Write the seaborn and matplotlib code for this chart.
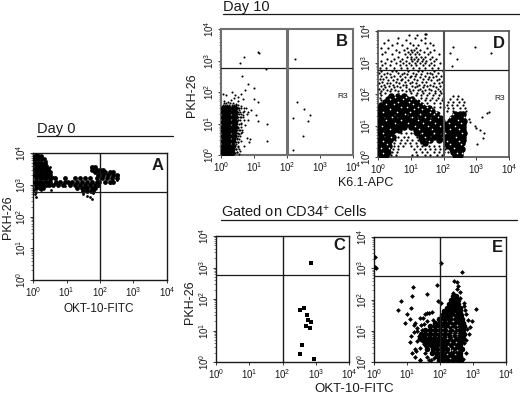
import matplotlib
matplotlib.use("Agg")
import matplotlib.pyplot as plt
from matplotlib.lines import Line2D
import numpy as np
import pandas as pd
import seaborn as sns

# all values below are log10 positions

a_core_y = [3.9, 3.8, 3.7, 3.6, 3.5, 3.4, 3.3, 3.2, 3.1, 3.0, 2.9,
            3.2, 3.1, 3.0, 2.9, 2.8,
            3.2, 3.1, 3.0,
            3.55, 3.45, 3.4, 3.3, 3.2, 3.1]
a_core_x = [[0.05, 0.15, 0.25], [0.05, 0.15, 0.25, 0.32], [0.05, 0.15, 0.25, 0.35], [0.1, 0.2, 0.3, 0.4],
            [0.05, 0.15, 0.25, 0.35, 0.45], [0.1, 0.2, 0.3, 0.4, 0.5], [0.05, 0.15, 0.25, 0.35, 0.45, 0.52],
            [0.1, 0.2, 0.3, 0.4, 0.5, 0.55], [0.05, 0.15, 0.25, 0.35, 0.45, 0.52], [0.1, 0.2, 0.3, 0.4, 0.48],
            [0.1, 0.2, 0.3],
            [1.25, 1.4, 1.55, 1.7, 1.9], [1.15, 1.3, 1.45, 1.6, 1.75, 1.9, 1.98],
            [1.1, 1.25, 1.4, 1.55, 1.7, 1.85, 1.95], [1.3, 1.45, 1.6, 1.75, 1.85], [1.5, 1.6, 1.72, 1.8],
            [0.65, 0.95], [0.7, 0.82, 0.95, 1.05], [0.6, 0.75, 0.9],
            [1.75, 1.85], [1.75, 1.9, 2.0, 2.1], [1.85, 2.0, 2.15, 2.3, 2.4], [1.95, 2.1, 2.25, 2.4, 2.5],
            [2.05, 2.2, 2.35, 2.5], [2.15, 2.3, 2.4]]
a_dots_x = [0.05, 0.08, 0.04, 0.1, 0.25, 0.55, 0.6, 0.5, 0.65, 0.95, 1.5, 1.6, 1.7, 1.75, 1.6, 1.8, 1.55, 1.95,
            2.05, 2.55, 2.5, 2.3, 1.75, 1.72, 0.5, 0.15, 0.38, 0.1, 0.05]
a_dots_y = [2.7, 2.6, 2.85, 2.78, 2.85, 2.85, 3.25, 3.55, 3.05, 2.95, 2.72, 2.65, 2.6, 2.55, 2.82, 2.75, 2.9, 2.95,
            3.2, 3.3, 3.15, 3.05, 3.5, 3.55, 3.3, 3.95, 3.75, 3.98, 3.92]

b_core_y = [1.5, 1.35, 1.2, 1.05, 0.9, 0.75, 0.6, 0.45, 0.3, 0.15, 0.05]
b_core_x = [[0.05, 0.15, 0.25, 0.35, 0.42], [0.05, 0.15, 0.25, 0.35, 0.42], [0.05, 0.15, 0.25, 0.35, 0.42],
            [0.05, 0.15, 0.25, 0.35, 0.42], [0.05, 0.15, 0.25, 0.35, 0.42], [0.05, 0.15, 0.25, 0.35, 0.4],
            [0.05, 0.15, 0.25, 0.35, 0.4], [0.05, 0.15, 0.25, 0.35], [0.05, 0.15, 0.25, 0.35],
            [0.05, 0.15, 0.25, 0.33], [0.05, 0.15, 0.25, 0.33]]
b_dots_x = [1.14, 1.12, 0.70, 0.57, 1.35, 0.63, 0.81, 1.01, 0.73, 2.23, 2.30, 2.50, 2.70, 2.17, 2.63, 2.47, 2.17,
            1.40, 1.38, 1.12, 0.99, 1.07, 1.12, 0.88,
            0.45, 0.5, 0.55, 0.62, 0.48, 0.7, 0.58, 0.66, 0.75, 0.52, 0.46, 0.6, 0.72, 0.82, 0.5, 0.57,
            0.47, 0.55, 0.65, 0.49, 0.53, 0.44, 0.6, 0.7, 0.46, 0.52, 0.48, 0.44, 0.58, 0.5, 0.66, 0.42,
            0.1, 0.22, 0.3, 0.38, 0.05, 0.16, 0.34, 0.5, 0.62, 0.92, 0.78, 0.85, 0.42, 0.55]
b_dots_y = [3.24, 3.26, 3.11, 2.91, 2.72, 2.5, 2.24, 2.12, 2.07, 3.06, 1.68, 1.46, 1.26, 1.16, 1.08, 0.59, 0.17,
            1.0, 0.45, 1.67, 1.77, 1.27, 1.08, 0.5,
            1.62, 1.5, 1.42, 1.55, 1.3, 1.4, 1.2, 1.28, 1.5, 1.1, 0.98, 1.02, 0.95, 1.35, 0.85, 0.8,
            0.7, 0.66, 0.72, 0.55, 0.42, 0.35, 0.46, 0.3, 0.2, 0.25, 0.1, 0.62, 0.12, 1.72, 1.78, 1.9,
            1.72, 1.68, 1.75, 1.82, 1.95, 1.9, 2.0, 1.85, 1.95, 1.42, 0.55, 0.42, 0.05, 0.02]
b_edge_y = [1.66, 1.6, 1.48, 1.38, 1.3, 1.2, 1.12, 1.0, 0.9, 0.8, 0.7, 0.6, 0.5, 0.4, 0.3, 0.2, 0.1]
b_edge_x = [[0.08, 0.16, 0.28, 0.36], [0.05, 0.12, 0.18, 0.25, 0.32, 0.4, 0.46, 0.52], [0.48, 0.55, 0.62, 0.7],
            [0.5, 0.58, 0.66], [0.47, 0.55, 0.62, 0.78], [0.48, 0.53, 0.6, 0.68], [0.5, 0.58, 0.7, 0.82],
            [0.47, 0.54, 0.62], [0.46, 0.52, 0.6], [0.48, 0.55, 0.65], [0.46, 0.52, 0.6], [0.44, 0.5, 0.58],
            [0.42, 0.48, 0.55], [0.4, 0.46, 0.52], [0.42, 0.5], [0.38, 0.45, 0.55], [0.4, 0.48]]

c_dots_x = [2.86, 2.53, 2.66, 2.75, 2.78, 2.87, 2.72, 2.82, 2.59, 2.53, 2.96]
c_dots_y = [3.15, 1.65, 1.71, 1.48, 1.32, 1.27, 1.15, 1.08, 0.55, 0.24, 0.11]

d_core_y = [1.95, 1.85, 1.75, 1.65, 1.55, 1.45, 1.35, 1.25, 1.15, 1.05,
            0.95, 0.85, 0.75, 0.65, 0.55, 0.45, 0.35, 0.25, 0.15, 0.05]
d_core_x = [[0.4, 0.6, 0.8],
            [0.3, 0.5, 0.7, 0.9, 1.05],
            [0.2, 0.4, 0.6, 0.8, 1.0, 1.2],
            [0.1, 0.3, 0.5, 0.7, 0.9, 1.1, 1.3],
            [0.05, 0.2, 0.4, 0.6, 0.8, 1.0, 1.2, 1.4, 1.55],
            [0.1, 0.3, 0.5, 0.7, 0.9, 1.1, 1.3, 1.5, 1.65],
            [0.05, 0.2, 0.4, 0.6, 0.8, 1.0, 1.2, 1.4, 1.6, 1.8, 2.35, 2.5, 2.6],
            [0.1, 0.3, 0.5, 0.7, 0.9, 1.1, 1.3, 1.5, 1.7, 1.9, 2.25, 2.4, 2.55],
            [0.05, 0.2, 0.4, 0.6, 0.8, 1.0, 1.2, 1.4, 1.6, 1.8, 1.95, 2.2, 2.35, 2.5, 2.62],
            [0.1, 0.3, 0.5, 0.7, 0.9, 1.1, 1.3, 1.5, 1.7, 1.9, 2.12, 2.28, 2.45, 2.6],
            [0.05, 0.2, 0.4, 0.6, 0.8, 1.0, 1.2, 1.4, 1.6, 1.8, 2.0, 2.15, 2.3, 2.45, 2.6],
            [0.1, 0.3, 0.5, 0.65, 1.15, 1.3, 1.5, 1.7, 1.9, 2.1, 2.25, 2.4, 2.6],
            [0.05, 0.2, 0.4, 1.2, 1.4, 1.6, 1.8, 2.0, 2.2, 2.35, 2.5, 2.62],
            [0.1, 0.3, 0.45, 1.3, 1.5, 1.7, 1.9, 2.1, 2.3, 2.45, 2.6],
            [0.05, 0.2, 0.38, 1.35, 1.6, 1.85, 2.05, 2.2, 2.35, 2.5, 2.6],
            [0.1, 0.3, 1.45, 2.1, 2.3, 2.45, 2.58],
            [0.05, 0.2, 0.35, 2.15, 2.35, 2.5],
            [0.1, 0.28, 2.25, 2.4, 2.55],
            [0.05, 0.2, 0.32, 2.3, 2.5],
            [0.1, 0.25, 2.35, 2.5]]
d_white_y = [2.0, 1.92, 1.84, 1.76, 1.68, 1.6, 1.52, 1.44, 1.36, 1.28, 1.18, 1.08, 0.98, 0.88, 0.76, 0.64, 0.52, 0.4,
             0.28, 0.14]
d_white_x = [[0.28, 0.66, 0.92], [0.12, 0.52, 0.84, 1.12], [0.38, 0.76, 1.0, 1.18], [0.62, 0.94, 1.28],
             [0.24, 0.48, 1.06, 1.38], [0.7, 0.88, 1.22, 1.5], [0.36, 1.1, 1.34, 1.62], [0.14, 0.58, 0.98, 1.58, 1.76],
             [0.82, 1.28, 1.7, 1.88, 2.3], [0.42, 1.04, 1.44, 1.82, 2.2, 2.62], [0.24, 0.7, 1.22, 1.58, 2.02, 2.44],
             [0.52, 0.92, 1.36, 1.74, 2.16, 2.52], [0.12, 1.12, 1.52, 1.88, 2.34], [0.36, 1.26, 1.66, 2.2, 2.48],
             [0.16, 1.34, 1.72, 2.06, 2.58], [0.4, 1.42, 1.98, 2.38], [0.14, 1.56, 2.12, 2.46], [0.26, 2.2, 2.52],
             [0.08, 0.34, 2.32], [0.14, 2.42, 2.58]]
d_dots_x = [3.0, 3.1, 3.2, 3.25, 3.02, 3.18, 3.32, 3.4, 2.3, 2.42, 2.2, 2.25, 2.95, 3.45, 2.82, 2.78, 2.95]
d_dots_y = [0.92, 0.85, 0.6, 0.75, 0.4, 1.28, 1.4, 1.42, 3.5, 3.1, 3.3, 2.9, 3.5, 3.3, 1.1, 1.2, 1.0]
d_cloud_y = [3.92, 3.86, 3.78, 3.7, 3.62, 3.54, 3.47, 3.4, 3.33, 3.26, 3.19, 3.12, 3.05, 2.98, 2.91, 2.84,
             2.72, 2.67, 2.63, 2.58, 2.53, 2.49, 2.44, 2.39, 2.35, 2.3, 2.26, 2.21, 2.17, 2.12, 2.08,
             2.03, 1.96, 1.88, 1.8, 1.7, 1.6,
             1.95, 1.85, 1.75, 1.65, 1.55, 1.45]
d_cloud_x = [[1.42, 1.48], [0.95, 1.2], [0.6, 1.12, 1.42], [0.3, 0.85, 1.3], [0.18, 0.58, 0.98, 1.42, 1.6],
             [0.42, 0.72, 1.08, 1.22, 1.68], [0.08, 0.3, 0.9, 1.15, 1.5], [0.55, 0.8, 1.0, 1.1, 1.28, 1.72],
             [0.2, 0.65, 0.92, 1.05, 1.18, 1.4, 1.6], [0.12, 0.44, 0.82, 0.98, 1.12, 1.25, 1.52, 1.85],
             [0.6, 0.9, 1.02, 1.16, 1.3, 1.45, 1.65], [0.28, 0.5, 0.74, 1.0, 1.1, 1.22, 1.38, 1.58, 1.78],
             [0.08, 0.4, 0.66, 0.86, 1.04, 1.2, 1.34, 1.48, 1.7], [0.22, 0.55, 0.76, 0.94, 1.12, 1.28, 1.42, 1.62, 1.88],
             [0.12, 0.36, 0.68, 0.84, 1.0, 1.16, 1.36, 1.55, 1.72], [0.05, 0.25, 0.48, 0.7, 0.9, 1.08, 1.24, 1.44, 1.64, 1.82],
             [0.1, 0.42, 0.56, 0.93, 1.22, 1.35, 1.71, 1.98],
             [0.03, 0.27, 0.61, 0.79, 1.06, 1.49, 1.58, 1.83],
             [0.19, 0.36, 0.72, 0.88, 1.17, 1.31, 1.66],
             [0.09, 0.5, 0.66, 1.01, 1.12, 1.43, 1.77, 1.93],
             [0.24, 0.4, 0.83, 0.97, 1.27, 1.56, 1.69],
             [0.05, 0.15, 0.59, 0.74, 1.09, 1.38, 1.52, 1.87],
             [0.31, 0.47, 0.69, 0.91, 1.2, 1.62, 1.79],
             [0.12, 0.55, 0.81, 1.03, 1.33, 1.46, 1.95],
             [0.02, 0.26, 0.37, 0.64, 0.98, 1.15, 1.72, 1.85],
             [0.18, 0.45, 0.76, 0.87, 1.24, 1.4, 1.59],
             [0.08, 0.33, 0.57, 1.05, 1.19, 1.5, 1.68, 1.9],
             [0.22, 0.49, 0.68, 0.84, 1.12, 1.36, 1.77],
             [0.04, 0.14, 0.41, 0.95, 1.29, 1.55, 1.82, 1.97],
             [0.29, 0.53, 0.73, 1.08, 1.21, 1.44, 1.63],
             [0.1, 0.37, 0.62, 0.86, 0.99, 1.34, 1.74, 1.88],
             [0.06, 0.2, 1.02, 1.2, 1.38, 1.56, 1.74, 1.92], [0.1, 1.16, 1.32, 1.5, 1.68, 1.86],
             [0.05, 1.3, 1.48, 1.65, 1.82, 1.98], [0.08, 1.42, 1.6, 1.78, 1.94], [1.5, 1.7, 1.88], [1.72, 1.9, 2.0],
             [2.3, 2.45], [2.2, 2.4, 2.55], [2.15, 2.3, 2.48, 2.62], [2.1, 2.25, 2.42, 2.6], [2.15, 2.3, 2.5, 2.65],
             [2.12, 2.28, 2.7]]
d_hole_y = [0.75, 0.65, 0.55, 0.45, 0.35, 0.25, 0.15, 0.06, 0.35, 0.25, 0.15]
d_hole_x = [[0.7, 0.85, 1.0, 1.1], [0.6, 0.78, 0.92, 1.18], [0.52, 0.7, 0.88, 1.05, 1.22],
            [0.5, 0.66, 0.82, 0.98, 1.15, 1.3], [0.48, 0.62, 0.76, 1.02, 1.2, 1.35], [0.45, 0.6, 1.1, 1.28, 1.42],
            [0.42, 0.58, 1.15, 1.35, 1.5, 1.7], [0.4, 0.55, 1.05, 1.2, 1.42, 1.6, 1.8, 1.95],
            [1.55, 1.7, 1.85, 2.0], [1.6, 1.75, 1.9, 2.05], [1.85, 2.0, 2.15]]

e_core_y = [2.1, 1.98, 1.86, 1.74, 1.62, 1.5, 1.38, 1.26, 1.14, 1.02, 0.9, 0.78, 0.66, 0.54, 0.42, 0.3, 0.18, 0.06]
e_core_x = [[2.38, 2.48],
            [2.32, 2.44, 2.55],
            [2.28, 2.42, 2.54],
            [2.2, 2.34, 2.48, 2.6],
            [2.12, 2.26, 2.4, 2.54, 2.62],
            [2.05, 2.2, 2.35, 2.5, 2.64],
            [1.98, 2.12, 2.27, 2.42, 2.56, 2.68],
            [1.85, 2.0, 2.15, 2.3, 2.45, 2.6, 2.7],
            [1.7, 1.85, 2.0, 2.15, 2.3, 2.45, 2.6, 2.72],
            [1.55, 1.7, 1.85, 2.0, 2.15, 2.3, 2.45, 2.6, 2.7],
            [1.42, 1.55, 1.7, 1.85, 2.0, 2.15, 2.3, 2.45, 2.6, 2.72],
            [1.4, 1.52, 1.68, 1.82, 1.98, 2.12, 2.28, 2.42, 2.58, 2.7],
            [1.5, 1.65, 1.8, 1.95, 2.1, 2.25, 2.4, 2.55, 2.68],
            [1.58, 1.72, 1.88, 2.02, 2.18, 2.32, 2.48, 2.62],
            [1.62, 1.78, 1.92, 2.08, 2.22, 2.38, 2.52, 2.66],
            [1.75, 1.9, 2.05, 2.2, 2.35, 2.5, 2.62],
            [1.9, 2.03, 2.18, 2.32, 2.48, 2.6],
            [1.98, 2.1, 2.25, 2.4, 2.55, 2.63]]
e_white_y = [1.45, 1.3, 1.2, 1.05, 0.9, 0.78, 0.65, 0.5, 0.38, 0.25, 0.12]
e_white_x = [[2.38], [2.4], [2.3, 2.5], [2.25, 2.42], [2.35, 2.52], [2.2, 2.4], [2.3, 2.48], [2.25, 2.42],
             [2.35, 2.52], [2.2, 2.45], [2.3]]
e_dots_x = [0.02, 0.04, 0.05, 2.04, 2.68, 2.42, 2.5, 2.56, 2.6, 2.5, 2.38, 2.62, 1.18, 1.92, 0.82, 0.72, 1.62, 1.15,
            1.95, 2.02, 1.12, 1.0, 1.55, 1.68, 1.48, 1.38, 1.25, 1.08, 1.22, 1.3, 0.95, 1.2, 1.12, 1.45, 1.35, 1.3,
            1.6, 1.25, 1.28, 1.4, 1.52, 1.15, 1.25, 1.08, 1.38, 1.42, 1.72, 1.68, 1.82, 3.08, 2.96, 2.85, 2.9, 2.82,
            2.78, 2.75, 2.72, 2.88, 2.72, 2.68, 2.78, 2.8, 2.7, 2.72, 1.3, 1.42, 1.75, 1.78, 1.6, 1.5, 1.38, 1.55, 1.62]
e_dots_y = [3.35, 3.05, 3.0, 3.17, 2.88, 2.6, 2.55, 2.42, 2.25, 2.35, 2.22, 2.05, 2.4, 2.45, 1.95, 1.65, 2.18, 2.1,
            1.95, 1.88, 1.72, 1.55, 1.55, 1.58, 1.42, 1.4, 1.25, 1.38, 1.18, 1.1, 1.25, 0.95, 0.82, 1.02, 0.82, 0.68,
            1.58, 0.42, 0.35, 0.45, 0.58, 0.3, 0.15, 0.65, 0.08, 0.72, 0.08, 0.05, 0.12, 1.7, 1.32, 1.35, 1.12, 1.05,
            1.55, 1.68, 1.8, 0.9, 0.62, 0.42, 0.72, 0.3, 0.1, 1.9, 1.0, 1.18, 1.6, 1.35, 1.3, 1.22, 0.08, 0.28, 0.15]

tick_vals = [1, 10, 100, 1000, 10000]
tick_text = ["$10^0$", "$10^1$", "$10^2$", "$10^3$", "$10^4$"]
ink = "#1a1a1a"
W, H = 520, 395


def rows_to_frame(ys, xs):
    px, py = [], []
    for y, row in zip(ys, xs):
        for x in row:
            px.append(x)
            py.append(y)
    return pd.DataFrame({"x": 10 ** np.array(px, dtype=float), "y": 10 ** np.array(py, dtype=float)})


def dots_frame(xs, ys):
    return pd.DataFrame({"x": 10 ** np.array(xs), "y": 10 ** np.array(ys)})


def make_axes(fig, left, top, right, bottom, hline, vline, edge=ink, vlw=1.0, elw=1.0):
    ax = fig.add_axes([left / W, 1 - bottom / H, (right - left) / W, (bottom - top) / H])
    ax.set_xscale("log")
    ax.set_yscale("log")
    ax.set_xlim(1, 10000)
    ax.set_ylim(1, 10000)
    ax.set_xticks(tick_vals, tick_text)
    ax.set_yticks(tick_vals, tick_text)
    ax.tick_params(axis="both", which="major", length=2.5, width=0.6, pad=1, labelsize=7, color=ink, labelcolor=ink)
    ax.tick_params(axis="both", which="minor", length=1.2, width=0.4, color=ink)
    ax.tick_params(axis="y", labelrotation=90)
    for lab in ax.get_yticklabels():
        lab.set_va("center")
    for s in ax.spines.values():
        s.set_color(edge)
        s.set_linewidth(elw)
    ax.axhline(10 ** hline, color=ink, lw=0.9, zorder=5)
    ax.axvline(10 ** vline, color=edge if vlw > 1 else ink, lw=vlw, zorder=5)
    ax.set_xlabel("")
    ax.set_ylabel("")
    return ax


def dots(ax, frame, size, color="black", marker="o"):
    sns.scatterplot(data=frame, x="x", y="y", ax=ax, s=size, color=color, linewidth=0, marker=marker,
                    legend=False, clip_on=True, zorder=3)
    ax.set_xlabel("")
    ax.set_ylabel("")


sns.set_theme(style="white")
plt.rcParams["font.family"] = ["Liberation Sans", "DejaVu Sans"]
plt.rcParams["mathtext.fontset"] = "custom"
plt.rcParams["mathtext.rm"] = "Liberation Sans"
plt.rcParams["mathtext.default"] = "regular"
plt.rcParams["xtick.bottom"] = True
plt.rcParams["ytick.left"] = True

fig = plt.figure(figsize=(W / 100, H / 100), dpi=100, facecolor="white")

ax_a = make_axes(fig, 33, 153, 167, 280, 2.77, 2.0)
dots(ax_a, rows_to_frame(a_core_y, a_core_x), 12)
dots(ax_a, dots_frame(a_dots_x, a_dots_y), 4)

ax_b = make_axes(fig, 221, 29, 353, 155, 2.77, 2.0, edge="#707070", vlw=2.2, elw=1.5)
dots(ax_b, rows_to_frame(b_core_y, b_core_x), 16)
dots(ax_b, dots_frame(b_dots_x, b_dots_y), 2.2)
dots(ax_b, rows_to_frame(b_edge_y, b_edge_x), 2.2)

ax_d = make_axes(fig, 378, 31, 509, 157, 2.77, 2.0, edge="#505050", vlw=1.5, elw=1.2)
dots(ax_d, rows_to_frame(d_core_y, d_core_x), 22)
dots(ax_d, dots_frame(d_dots_x, d_dots_y), 2.4)
dots(ax_d, rows_to_frame(d_cloud_y, d_cloud_x), 2.6)
dots(ax_d, rows_to_frame(d_hole_y, d_hole_x), 2.6)
dots(ax_d, rows_to_frame(d_white_y, d_white_x), 1.4, color="white")

ax_c = make_axes(fig, 216, 236, 349, 362, 2.76, 2.02)
dots(ax_c, dots_frame(c_dots_x, c_dots_y), 7, marker="s")

ax_e = make_axes(fig, 374, 237, 506, 362, 2.74, 2.0)
dots(ax_e, rows_to_frame(e_core_y, e_core_x), 16)
dots(ax_e, dots_frame(e_dots_x, e_dots_y), 6, marker="D")
dots(ax_e, rows_to_frame(e_white_y, e_white_x), 1.4, color="#bbbbbb")


def text_px(x, y, s, **kw):
    kw.setdefault("color", ink)
    kw.setdefault("ha", "center")
    kw.setdefault("va", "center")
    fig.text(x / W, 1 - y / H, s, **kw)


def rule_px(x0, x1, y, lw=0.9):
    fig.add_artist(Line2D([x0 / W, x1 / W], [1 - y / H, 1 - y / H], color=ink, lw=lw))


text_px(37, 129, "Day 0", ha="left", fontsize=10.5)
rule_px(37, 173, 136)
text_px(223, 7, "Day 10", ha="left", fontsize=10.5)
rule_px(223, 520, 14)
text_px(221, 212, "Gated on CD34$^{+}$ Cells", ha="left", fontsize=10.5)
rule_px(221, 517, 220)

text_px(8, 217, "PKH-26", rotation=90, fontsize=9)
text_px(192, 95, "PKH-26", rotation=90, fontsize=9)
text_px(190, 302, "PKH-26", rotation=90, fontsize=9)
text_px(99, 309, "OKT-10-FITC", fontsize=8.5)
text_px(366, 183, "K6.1-APC", fontsize=9)
text_px(354, 389, "OKT-10-FITC", fontsize=9.5)

for label, x, y in [("A", 158, 165), ("B", 342, 41), ("D", 499, 43), ("C", 339, 246), ("E", 497, 248)]:
    text_px(x, y, label, fontsize=12, fontweight="bold")
text_px(343, 97, "R3", fontsize=6)
text_px(500, 98, "R3", fontsize=6)

fig.savefig("out.png", dpi=100)
